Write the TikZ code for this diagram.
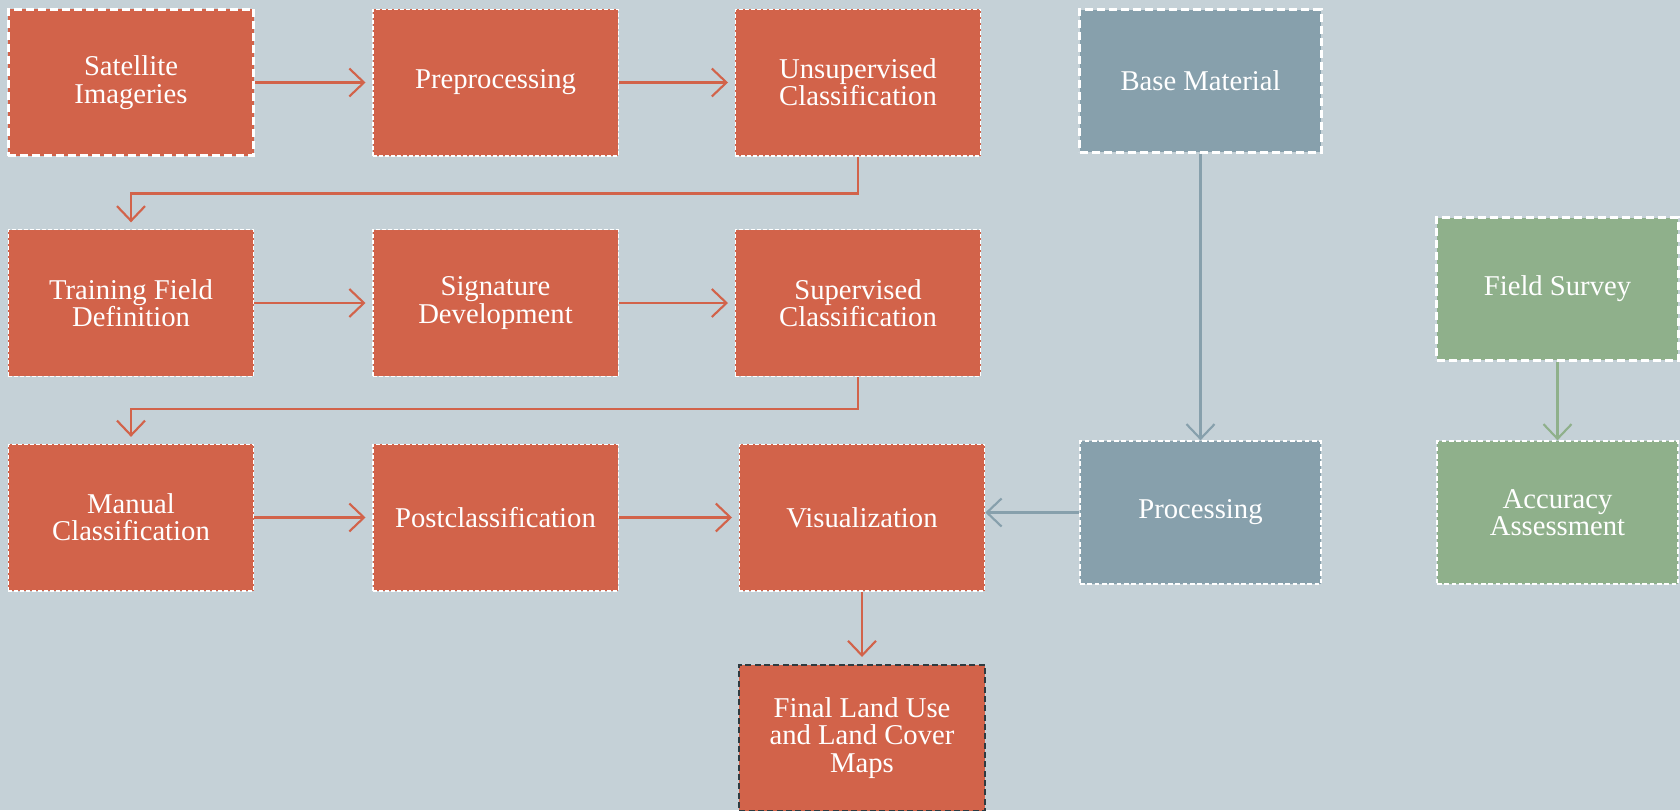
\documentclass[tikz,border=0pt]{standalone}
\usepackage{fontspec}
\setmainfont{Liberation Serif}
\usetikzlibrary{arrows.meta}
\definecolor{rust}{RGB}{210,99,74}
\definecolor{slate}{RGB}{135,160,172}
\definecolor{sage}{RGB}{143,176,139}
\definecolor{backdrop}{RGB}{197,209,215}
\definecolor{darkedge}{RGB}{47,59,64}

\begin{document}
\begin{tikzpicture}[x=0.75pt,y=0.75pt,yscale=-1,xscale=1,
    box/.style={minimum width=184pt,minimum height=110pt,inner sep=2pt,align=center,text=white,
        font=\fontsize{21.5}{20.5}\selectfont},
    rustbox/.style={box,fill=rust,draw=white,line width=1pt,dash pattern=on 3pt off 1.5pt},
    rustthick/.style={rustbox,line width=2.2pt,dash pattern=on 6pt off 3pt},
    rustfinal/.style={rustbox,draw=darkedge,line width=1.5pt,dash pattern=on 4.5pt off 2.5pt},
    slatebox/.style={box,minimum width=181pt,minimum height=107pt,fill=slate,draw=white,line width=2.2pt,dash pattern=on 6pt off 3pt},
    slatethin/.style={slatebox,line width=1.2pt,dash pattern=on 3.5pt off 2pt},
    sagebox/.style={slatebox,fill=sage},
    sagethin/.style={slatethin,fill=sage},
    flow/.style={line width=1.6pt,-{Straight Barb[length=11pt,width=21pt]}},
    rustflow/.style={flow,draw=rust,shorten >=5pt},
    slateflow/.style={flow,draw=slate},
    sageflow/.style={flow,draw=sage}]

    %Background
    \fill[backdrop] (0,0) rectangle (1680,810);
    \useasboundingbox (0,0) rectangle (1680,810);

    %Shape: Rectangle -- first row
    \node[rustthick] (sat) at (131,82.5) {Satellite\\Imageries};
    \node[rustbox] (prep) at (495.5,82.5) {Preprocessing};
    \node[rustbox] (unsup) at (858,82.5) {Unsupervised\\Classification};
    \node[slatebox] (base) at (1200.5,81) {Base Material};

    %Shape: Rectangle -- second row
    \node[rustbox] (train) at (131,303) {Training Field\\Definition};
    \node[rustbox] (sign) at (495.5,303) {Signature\\Development};
    \node[rustbox] (sup) at (858,303) {Supervised\\Classification};
    \node[sagebox] (field) at (1557.5,289) {Field Survey};

    %Shape: Rectangle -- third row
    \node[rustbox] (manual) at (131,517.5) {Manual\\Classification};
    \node[rustbox] (post) at (495.5,517.5) {Postclassification};
    \node[rustbox] (vis) at (862,517.5) {Visualization};
    \node[slatethin] (proc) at (1200.5,512.5) {Processing};
    \node[sagethin] (acc) at (1557.5,512.5) {Accuracy\\Assessment};

    %Shape: Rectangle -- result
    \node[rustfinal] (final) at (862,738) {Final Land Use\\and Land Cover\\Maps};

    %Straight Lines
    \draw[rustflow] (sat) -- (prep);
    \draw[rustflow] (prep) -- (unsup);
    \draw[rustflow] (unsup.south) -- ++(0,37) -| (train.north);
    \draw[rustflow] (train) -- (sign);
    \draw[rustflow] (sign) -- (sup);
    \draw[rustflow] (sup.south) -- ++(0,32) -| (manual.north);
    \draw[rustflow] (manual) -- (post);
    \draw[rustflow] (post) -- (vis);
    \draw[rustflow] (vis) -- (final);
    \draw[slateflow] (base) -- (proc);
    \draw[slateflow] (proc.west) -- (proc.west -| vis.east);
    \draw[sageflow] (field) -- (acc);

\end{tikzpicture}
\end{document}
